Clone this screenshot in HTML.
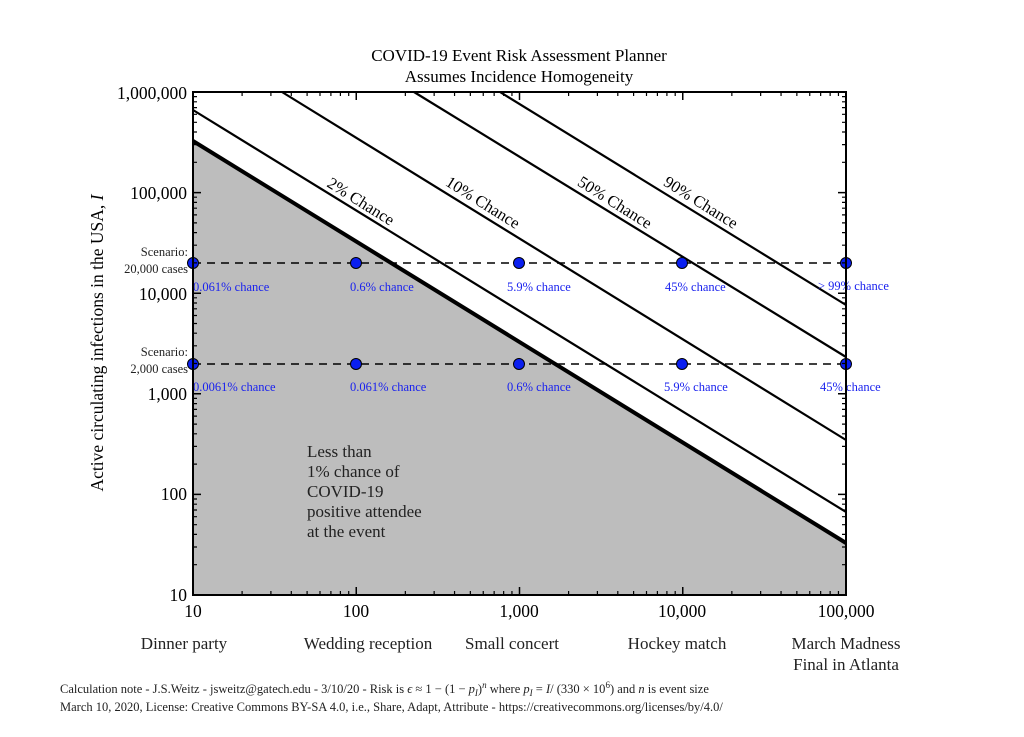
<!DOCTYPE html>
<html><head><meta charset="utf-8"><style>
body{margin:0;background:#fff}
svg{display:block;font-family:"Liberation Serif",serif}
</style></head><body>
<svg width="1024" height="737" viewBox="0 0 1024 737">
<defs>
<path id="mx" d="M49.1,0v-4M77.9,0v-4M98.3,0v-4M114.1,0v-4M127,0v-4M137.9,0v-4M147.4,0v-4M155.7,0v-4" stroke="#000" stroke-width="1.2"/>
<path id="mxt" d="M49.1,0v4M77.9,0v4M98.3,0v4M114.1,0v4M127,0v4M137.9,0v4M147.4,0v4M155.7,0v4" stroke="#000" stroke-width="1.2"/>
<path id="my" d="M0,-30.3h4M0,-48h4M0,-60.6h4M0,-70.3h4M0,-78.3h4M0,-85h4M0,-90.8h4M0,-96h4" stroke="#000" stroke-width="1.2"/>
<path id="myr" d="M0,-30.3h-4M0,-48h-4M0,-60.6h-4M0,-70.3h-4M0,-78.3h-4M0,-85h-4M0,-90.8h-4M0,-96h-4" stroke="#000" stroke-width="1.2"/>
</defs>
<text x="519" y="61" font-size="17" text-anchor="middle">COVID-19 Event Risk Assessment Planner</text>
<text x="519" y="82" font-size="17" text-anchor="middle">Assumes Incidence Homogeneity</text>
<polygon points="193,141 846,543 846,595 193,595" fill="#bdbdbd"/>
<g stroke="#000" fill="none">
<line x1="193" y1="141" x2="846" y2="543" stroke-width="4"/>
<line x1="193" y1="110" x2="846" y2="512" stroke-width="2.2"/>
<line x1="282" y1="92" x2="846" y2="440" stroke-width="2.2"/>
<line x1="414" y1="92" x2="846" y2="357" stroke-width="2.2"/>
<line x1="500" y1="92" x2="846" y2="305" stroke-width="2.2"/>
<line x1="193" y1="263" x2="846" y2="263" stroke-width="1.6" stroke-dasharray="8,6"/>
<line x1="193" y1="364" x2="846" y2="364" stroke-width="1.6" stroke-dasharray="8,6"/>
</g>
<g font-size="16.5">
<text transform="translate(358,206) rotate(32)" text-anchor="middle">2% Chance</text>
<text transform="translate(480,207) rotate(32)" text-anchor="middle">10% Chance</text>
<text transform="translate(612,207) rotate(32)" text-anchor="middle">50% Chance</text>
<text transform="translate(698,207) rotate(32)" text-anchor="middle">90% Chance</text>
</g>
<g fill="#0a1ff0" stroke="#000" stroke-width="1">
<circle cx="193" cy="263" r="5.5"/><circle cx="356" cy="263" r="5.5"/><circle cx="519" cy="263" r="5.5"/><circle cx="682" cy="263" r="5.5"/><circle cx="846" cy="263" r="5.5"/>
<circle cx="193" cy="364" r="5.5"/><circle cx="356" cy="364" r="5.5"/><circle cx="519" cy="364" r="5.5"/><circle cx="682" cy="364" r="5.5"/><circle cx="846" cy="364" r="5.5"/>
</g>
<g font-size="12.5" fill="#1a22ee">
<text x="193" y="291">0.061% chance</text><text x="350" y="291">0.6% chance</text><text x="507" y="291">5.9% chance</text><text x="665" y="291">45% chance</text><text x="818" y="290">&gt; 99% chance</text>
<text x="193" y="391">0.0061% chance</text><text x="350" y="391">0.061% chance</text><text x="507" y="391">0.6% chance</text><text x="664" y="391">5.9% chance</text><text x="820" y="391">45% chance</text>
</g>
<g font-size="17" fill="#222">
<text x="307" y="457">Less than</text><text x="307" y="477">1% chance of</text><text x="307" y="497">COVID-19</text><text x="307" y="517">positive attendee</text><text x="307" y="537">at the event</text>
</g>
<rect x="193" y="92" width="653" height="503" fill="none" stroke="#000" stroke-width="2"/>
<g stroke="#000" stroke-width="1.5">
<path d="M193,595v-8M356.25,595v-8M519.5,595v-8M682.75,595v-8M193,92v8M356.25,92v8M519.5,92v8M682.75,92v8M846,92v8"/>
<path d="M193,494.4h8M193,393.8h8M193,293.2h8M193,192.6h8M846,494.4h-8M846,393.8h-8M846,293.2h-8M846,192.6h-8"/>
</g>
<use href="#mx" x="193" y="595"/><use href="#mx" x="356.25" y="595"/><use href="#mx" x="519.5" y="595"/><use href="#mx" x="682.75" y="595"/>
<use href="#mxt" x="193" y="92"/><use href="#mxt" x="356.25" y="92"/><use href="#mxt" x="519.5" y="92"/><use href="#mxt" x="682.75" y="92"/>
<use href="#my" x="193" y="595"/><use href="#my" x="193" y="494.4"/><use href="#my" x="193" y="393.8"/><use href="#my" x="193" y="293.2"/><use href="#my" x="193" y="192.6"/>
<use href="#myr" x="846" y="595"/><use href="#myr" x="846" y="494.4"/><use href="#myr" x="846" y="393.8"/><use href="#myr" x="846" y="293.2"/><use href="#myr" x="846" y="192.6"/>
<g font-size="17.5" text-anchor="end">
<text x="187" y="601">10</text><text x="187" y="500">100</text><text x="187" y="400">1,000</text><text x="187" y="300">10,000</text><text x="187" y="199">100,000</text><text x="187" y="99">1,000,000</text>
</g>
<g font-size="12.5" text-anchor="end" fill="#222">
<text x="188" y="256">Scenario:</text><text x="188" y="273">20,000 cases</text>
<text x="188" y="356">Scenario:</text><text x="188" y="373">2,000 cases</text>
</g>
<text transform="translate(103,343) rotate(-90)" font-size="17.5" text-anchor="middle">Active circulating infections in the USA, <tspan font-style="italic">I</tspan></text>
<g font-size="17.5" text-anchor="middle">
<text x="193" y="617">10</text><text x="356" y="617">100</text><text x="519" y="617">1,000</text><text x="682" y="617">10,000</text><text x="846" y="617">100,000</text>
</g>
<g font-size="17" text-anchor="middle" fill="#222">
<text x="184" y="649">Dinner party</text><text x="368" y="649">Wedding reception</text><text x="512" y="649">Small concert</text><text x="677" y="649">Hockey match</text><text x="846" y="649">March Madness</text><text x="846" y="670">Final in Atlanta</text>
</g>
<g font-size="12.5" fill="#222">
<text x="60" y="693">Calculation note - J.S.Weitz - jsweitz@gatech.edu - 3/10/20 - Risk is <tspan font-style="italic">ϵ</tspan> ≈ 1 − (1 − <tspan font-style="italic">p</tspan><tspan font-size="9" font-style="italic" dy="3">I</tspan><tspan dy="-3">)</tspan><tspan font-size="9" font-style="italic" dy="-5">n</tspan><tspan dy="5"> where </tspan><tspan font-style="italic">p</tspan><tspan font-size="9" font-style="italic" dy="3">I</tspan><tspan dy="-3"> = </tspan><tspan font-style="italic">I</tspan>/ (330 × 10<tspan font-size="9" dy="-5">6</tspan><tspan dy="5">) and </tspan><tspan font-style="italic">n</tspan> is event size</text>
<text x="60" y="711">March 10, 2020, License: Creative Commons BY-SA 4.0, i.e., Share, Adapt, Attribute - https://creativecommons.org/licenses/by/4.0/</text>
</g>
</svg>
</body></html>
